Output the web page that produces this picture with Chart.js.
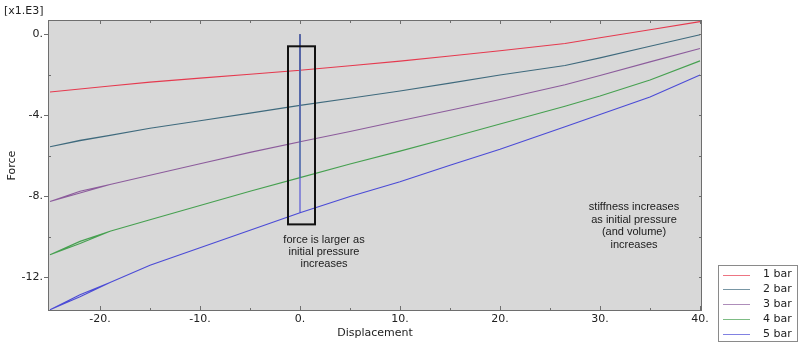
<!DOCTYPE html>
<html>
<head>
<meta charset="utf-8">
<script src="https://cdn.jsdelivr.net/npm/chart.js@4"></script>
<style>
  html, body { margin: 0; padding: 0; background: #fff; }
  canvas { display: block; }
</style>
</head>
<body>
<canvas id="forceChart" width="800" height="346"></canvas>
<script>
// displacement stations of the second pass (-25 -> 40), shared by all curves
const displacement = [-25, -22, -19, -15, -10, -5, 0, 5, 10, 15, 20, 26.5, 30, 35, 40];

// force [x1.E3] at those stations, one array per initial pressure
const force1bar = [-2.86, -2.71, -2.56, -2.37, -2.17, -1.98, -1.78, -1.56, -1.33, -1.08, -0.82, -0.46, -0.18, 0.22, 0.62];
const force2bar = [-5.56, -5.27, -5.00, -4.65, -4.28, -3.90, -3.52, -3.17, -2.81, -2.42, -2.02, -1.55, -1.17, -0.60, -0.03];
const force3bar = [-8.27, -7.85, -7.43, -6.97, -6.40, -5.84, -5.32, -4.81, -4.28, -3.76, -3.23, -2.50, -2.04, -1.37, -0.71];
const force4bar = [-10.90, -10.35, -9.74, -9.17, -8.47, -7.76, -7.09, -6.42, -5.78, -5.12, -4.44, -3.56, -3.06, -2.27, -1.32];
const force5bar = [-13.62, -12.98, -12.27, -11.42, -10.55, -9.69, -8.82, -8.02, -7.29, -6.48, -5.69, -4.58, -3.97, -3.10, -2.02];

// first pass (0 -> -25) follows the same curve except near -22
const firstPassAt22 = [-2.71, -5.25, -7.76, -10.24, -12.88];

const seriesLabels = ['1 bar', '2 bar', '3 bar', '4 bar', '5 bar'];
const seriesColors = ['#e53a4f', '#3f6a7d', '#8c5c9c', '#46a050', '#4b4bd6'];
const seriesForces = [force1bar, force2bar, force3bar, force4bar, force5bar];

const xMajor = [-20, -10, 0, 10, 20, 30, 40];
const yMajor = [0, -4, -8, -12];

// pressurisation at zero displacement, out to -25, then back up to 40
function buildPath(force, at22) {
  const pts = [{ x: 0, y: 0 }];
  for (let i = displacement.indexOf(0); i >= 0; i--) {
    const x = displacement[i];
    pts.push({ x: x, y: x === -22 ? at22 : force[i] });
  }
  displacement.forEach((x, i) => {
    if (i > 0) pts.push({ x: x, y: force[i] });
  });
  return pts;
}

const datasets = seriesLabels.map((label, i) => ({
  label: label,
  data: buildPath(seriesForces[i], firstPassAt22[i]),
  borderColor: seriesColors[i],
  backgroundColor: seriesColors[i],
  borderWidth: 1.1,
  showLine: true,
  pointRadius: 0,
  tension: 0,
  order: seriesLabels.length - i   // 5 bar drawn on top
}));

const tickFont = { family: 'DejaVu Sans', size: 11 };
const noteFont = '11px "Liberation Sans", Arial, sans-serif';
const frameColor = '#6e6e6e';

// plot background, frame, tick marks, notes and the boxed legend
const decorations = {
  id: 'decorations',
  beforeDatasetsDraw(chart) {
    const { ctx, chartArea: a } = chart;
    ctx.save();
    ctx.fillStyle = '#d8d8d8';
    ctx.fillRect(a.left, a.top, a.right - a.left, a.bottom - a.top);
    ctx.restore();
  },
  afterDraw(chart) {
    const { ctx, chartArea: a } = chart;
    const xs = chart.scales.x, ys = chart.scales.y;
    ctx.save();
    ctx.strokeStyle = frameColor;
    ctx.lineWidth = 1;
    ctx.strokeRect(a.left + 0.5, a.top + 0.5, a.right - a.left - 1, a.bottom - a.top - 1);

    ctx.beginPath();
    for (let v = -20; v <= 40; v += 5) {
      const px = Math.round(xs.getPixelForValue(v)) + 0.5;
      const major = v % 10 === 0;
      ctx.moveTo(px, a.bottom); ctx.lineTo(px, a.bottom - (major ? 5 : 3));
      ctx.moveTo(px, a.top); ctx.lineTo(px, a.top + (major ? 4 : 3));
    }
    for (let v = 0; v >= -12; v -= 2) {
      const py = Math.round(ys.getPixelForValue(v)) + 0.5;
      const major = v % 4 === 0;
      if (major) { ctx.moveTo(a.left, py); ctx.lineTo(a.left - 4, py); }
      else { ctx.moveTo(a.left, py); ctx.lineTo(a.left + 3, py); }
      ctx.moveTo(a.right, py); ctx.lineTo(a.right - 3, py);
    }
    ctx.stroke();

    // highlighted region around zero displacement
    const bx0 = xs.getPixelForValue(-1.2), bx1 = xs.getPixelForValue(1.5);
    const by0 = ys.getPixelForValue(-0.6), by1 = ys.getPixelForValue(-9.4);
    ctx.strokeStyle = '#111';
    ctx.lineWidth = 2;
    ctx.strokeRect(bx0, by0, bx1 - bx0, by1 - by0);

    ctx.fillStyle = '#1a1a1a';
    ctx.font = noteFont;
    ctx.textAlign = 'center';
    ctx.textBaseline = 'middle';
    const n1x = xs.getPixelForValue(2.4), n1y = ys.getPixelForValue(-10.17);
    ['force is larger as', 'initial pressure', 'increases'].forEach((t, i) => {
      ctx.fillText(t, n1x, n1y + i * 12.2);
    });
    const n2x = xs.getPixelForValue(33.4), n2y = ys.getPixelForValue(-8.53);
    ['stiffness increases', 'as initial pressure', '(and volume)', 'increases'].forEach((t, i) => {
      ctx.fillText(t, n2x, n2y + i * 12.8);
    });

    // legend
    ctx.fillStyle = '#fff';
    ctx.fillRect(718.5, 265.5, 79, 76);
    ctx.strokeStyle = '#8a8a8a';
    ctx.lineWidth = 1;
    ctx.strokeRect(718.5, 265.5, 79, 76);
    ctx.font = '11px "DejaVu Sans"';
    ctx.textAlign = 'left';
    chart.data.datasets.forEach((ds, i) => {
      const y = 274.5 + i * 14.8;
      ctx.globalAlpha = 0.7;
      ctx.strokeStyle = ds.borderColor;
      ctx.beginPath();
      ctx.moveTo(723, Math.round(y) + 0.5);
      ctx.lineTo(750, Math.round(y) + 0.5);
      ctx.stroke();
      ctx.globalAlpha = 1;
      ctx.fillStyle = '#222';
      ctx.fillText(ds.label, 763, y);
    });
    ctx.restore();
  }
};

new Chart(document.getElementById('forceChart'), {
  type: 'scatter',
  data: { datasets: datasets },
  plugins: [decorations],
  options: {
    responsive: false,
    animation: false,
    layout: { padding: { left: 4, right: 98, top: 0, bottom: 0 } },
    plugins: {
      legend: { display: false },
      tooltip: { enabled: false },
      title: {
        display: true,
        text: '[x1.E3]',
        align: 'start',
        color: '#222',
        font: { family: 'DejaVu Sans', size: 11, weight: 'normal' },
        padding: { top: 5, bottom: 1.8 }
      }
    },
    scales: {
      x: {
        type: 'linear',
        min: -25.2,
        max: 40.2,
        grid: { display: false, drawTicks: false },
        border: { display: false },
        afterBuildTicks: (s) => { s.ticks = xMajor.map(v => ({ value: v })); },
        afterFit: (s) => { s.height = 35; },
        ticks: {
          color: '#222',
          font: tickFont,
          padding: 2,
          maxRotation: 0,
          callback: (v) => v + '.'
        },
        title: {
          display: true,
          text: 'Displacement',
          color: '#222',
          font: tickFont,
          padding: { top: 0, bottom: 6.4 }
        }
      },
      y: {
        type: 'linear',
        min: -13.68,
        max: 0.7,
        grid: { display: false, drawTicks: false },
        border: { display: false },
        afterBuildTicks: (s) => { s.ticks = yMajor.map(v => ({ value: v })); },
        afterFit: (s) => { s.width = 44; },
        ticks: {
          color: '#222',
          font: tickFont,
          padding: 5,
          callback: (v) => v + '.'
        },
        title: {
          display: true,
          text: 'Force',
          color: '#222',
          font: tickFont,
          padding: { top: 1.5, bottom: 0 }
        }
      }
    }
  }
});
</script>
</body>
</html>
